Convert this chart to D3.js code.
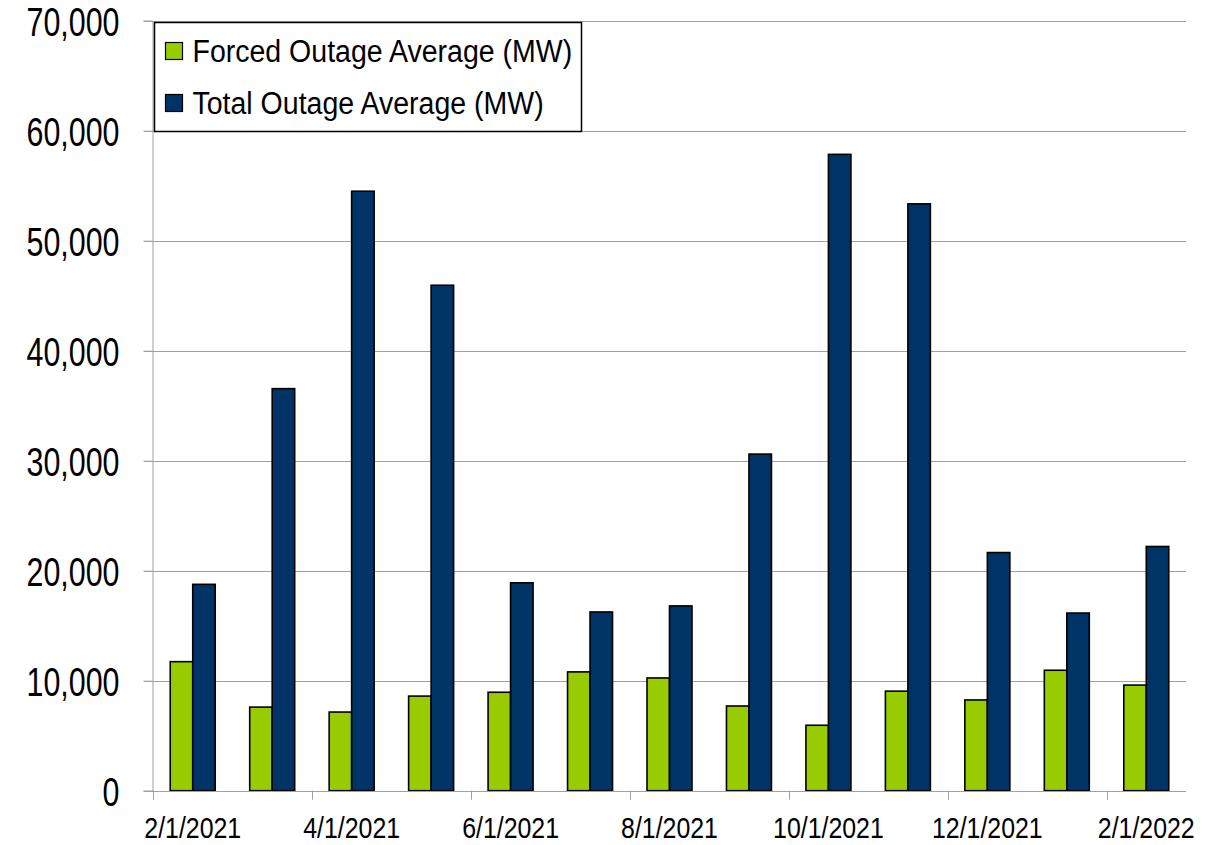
<!DOCTYPE html>
<html>
<head>
<meta charset="utf-8">
<script src="https://cdn.jsdelivr.net/npm/d3@7"></script>
<style>
  html, body { margin: 0; padding: 0; background: #fff; }
  svg { display: block; }
  text { font-family: "Liberation Sans", Arial, sans-serif; fill: #000; }
</style>
</head>
<body>
<div id="chart"></div>
<script>
// Monthly outage averages, Feb 2021 – Feb 2022 (MW)
const months = ["2/1/2021","3/1/2021","4/1/2021","5/1/2021","6/1/2021","7/1/2021","8/1/2021",
                "9/1/2021","10/1/2021","11/1/2021","12/1/2021","1/1/2022","2/1/2022"];
const forced = [11730, 7600, 7150, 8600, 8950, 10800, 10250, 7700, 5950, 9050, 8250, 10950, 9600];
const total  = [18760, 36550, 54500, 45950, 18900, 16250, 16800, 30600, 57850, 53350, 21650, 16150, 22200];
const seriesNames = ["Forced Outage Average (MW)", "Total Outage Average (MW)"];
const seriesColors = ["#99cc00", "#003366"];
const yTicks = [0, 10000, 20000, 30000, 40000, 50000, 60000, 70000];

const W = 1214, H = 845;
const plot = { left: 153, right: 1186, top: 20.7, bottom: 790.7 };

const svg = d3.select("#chart").append("svg").attr("width", W).attr("height", H);

const x = d3.scaleBand().domain(months).range([plot.left, plot.right])
  .paddingInner(0.434).paddingOuter(0.217);
const xs = d3.scaleBand().domain(seriesNames).range([0, x.bandwidth()]);
const y = d3.scaleLinear().domain([0, 70000]).range([plot.bottom, plot.top]);

// gridlines
svg.append("g").selectAll("line").data(yTicks.filter(t => t > 0)).enter().append("line")
  .attr("x1", plot.left - 9).attr("x2", plot.right)
  .attr("y1", d => Math.round(y(d)) + 0.5).attr("y2", d => Math.round(y(d)) + 0.5)
  .attr("stroke", "#a0a0a0").attr("stroke-width", 1);

// y axis
const yAxis = svg.append("g").attr("transform", `translate(${plot.left - 0.5},0)`)
  .call(d3.axisLeft(y).tickValues(yTicks).tickSize(9).tickPadding(0).tickFormat(d3.format(",")));
yAxis.select(".domain").attr("stroke", "#a0a0a0");
yAxis.selectAll(".tick line").attr("stroke", "#a0a0a0");
yAxis.selectAll(".tick text")
  .attr("x", 0).attr("dy", null).attr("y", 14.5)
  .attr("transform", "translate(-33,0) scale(0.76,1)")
  .style("font-size", "40px").style("font-family", "\"Liberation Sans\", Arial, sans-serif")
  .attr("fill", "#000");

// bars
const groups = svg.append("g").selectAll("g").data(months).enter().append("g")
  .attr("transform", d => `translate(${x(d)},0)`);
groups.selectAll("rect")
  .data((d, i) => [forced[i], total[i]].map((v, k) => ({ key: seriesNames[k], v, k })))
  .enter().append("rect")
  .attr("x", d => xs(d.key))
  .attr("width", xs.bandwidth())
  .attr("y", d => y(d.v))
  .attr("height", d => y(0) - y(d.v))
  .attr("fill", d => seriesColors[d.k])
  .attr("stroke", "#000").attr("stroke-width", 1.6);

// x axis
const step = x.step();
svg.append("line")
  .attr("x1", plot.left - 9).attr("x2", plot.right)
  .attr("y1", Math.round(y(0)) + 0.5).attr("y2", Math.round(y(0)) + 0.5)
  .attr("stroke", "#a0a0a0");
const boundaries = months.map((m, i) => i).filter(i => i % 2 === 0);
svg.append("g").selectAll("line").data(boundaries).enter().append("line")
  .attr("x1", i => Math.round(x(months[i]) - step * 0.217) + 0.5)
  .attr("x2", i => Math.round(x(months[i]) - step * 0.217) + 0.5)
  .attr("y1", y(0)).attr("y2", y(0) + 9)
  .attr("stroke", "#a0a0a0");
svg.append("g").selectAll("text").data(boundaries).enter().append("text")
  .attr("transform", i => `translate(${x(months[i]) + x.bandwidth() / 2},838) scale(0.83,1)`)
  .attr("text-anchor", "middle")
  .style("font-size", "30px")
  .text(i => months[i]);

// legend
const lg = svg.append("g").attr("transform", "translate(154.5,22.5)");
lg.append("rect").attr("width", 427).attr("height", 109)
  .attr("fill", "#fff").attr("stroke", "#000").attr("stroke-width", 1.5);
const items = lg.selectAll("g").data(seriesNames).enter().append("g")
  .attr("transform", (d, i) => `translate(11,${20 + i * 52})`);
items.append("rect").attr("width", 17).attr("height", 17)
  .attr("fill", (d, i) => seriesColors[i]).attr("stroke", "#000").attr("stroke-width", 1.2);
items.append("text")
  .attr("transform", "translate(27,19) scale(0.92,1)")
  .style("font-size", "31px")
  .text(d => d);
</script>
</body>
</html>
